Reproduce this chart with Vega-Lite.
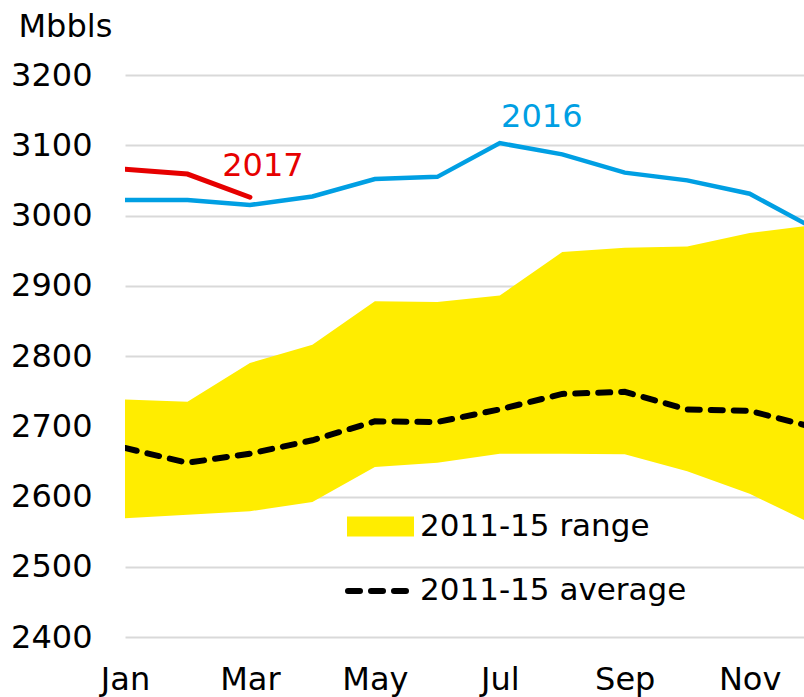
{
  "$schema": "https://vega.github.io/schema/vega-lite/v6.json",
  "width": 679,
  "height": 562,
  "autosize": {"type": "none"},
  "padding": {"left": 125, "top": 75, "right": 0, "bottom": 60},
  "background": "white",
  "config": {
    "font": "DejaVu Sans",
    "view": {"stroke": null},
    "axis": {"labelColor": "#000000", "titleColor": "#000000"}
  },
  "data": {
    "values": [
      {"month": 1, "upper": 2738, "lower": 2569, "avg": 2669, "y2016": 3022, "y2017": 3066},
      {"month": 2, "upper": 2735, "lower": 2574, "avg": 2648, "y2016": 3022, "y2017": 3059},
      {"month": 3, "upper": 2790, "lower": 2579, "avg": 2661, "y2016": 3015, "y2017": 3026},
      {"month": 4, "upper": 2816, "lower": 2592, "avg": 2680, "y2016": 3027, "y2017": null},
      {"month": 5, "upper": 2878, "lower": 2642, "avg": 2707, "y2016": 3052, "y2017": null},
      {"month": 6, "upper": 2877, "lower": 2648, "avg": 2706, "y2016": 3055, "y2017": null},
      {"month": 7, "upper": 2886, "lower": 2661, "avg": 2724, "y2016": 3103, "y2017": null},
      {"month": 8, "upper": 2948, "lower": 2661, "avg": 2746, "y2016": 3087, "y2017": null},
      {"month": 9, "upper": 2954, "lower": 2660, "avg": 2749, "y2016": 3061, "y2017": null},
      {"month": 10, "upper": 2956, "lower": 2636, "avg": 2724, "y2016": 3050, "y2017": null},
      {"month": 11, "upper": 2975, "lower": 2604, "avg": 2722, "y2016": 3031, "y2017": null},
      {"month": 12, "upper": 2986, "lower": 2561, "avg": 2699, "y2016": 2983, "y2017": null}
    ]
  },
  "encoding": {
    "x": {
      "field": "month",
      "type": "quantitative",
      "scale": {"domain": [1, 11.87], "nice": false, "zero": false},
      "axis": {
        "title": null,
        "values": [1, 3, 5, 7, 9, 11],
        "labelExpr": "['Jan','Feb','Mar','Apr','May','Jun','Jul','Aug','Sep','Oct','Nov','Dec'][datum.value - 1]",
        "labelFontSize": 32,
        "labelPadding": 27,
        "labelFlush": false,
        "labelOverlap": false,
        "grid": false,
        "domain": false,
        "ticks": false
      }
    }
  },
  "layer": [
    {
      "mark": {"type": "area", "clip": true, "opacity": 1},
      "encoding": {
        "y": {
          "field": "upper",
          "type": "quantitative",
          "scale": {"domain": [2400, 3200], "nice": false, "zero": false},
          "axis": {
            "values": [2400, 2500, 2600, 2700, 2800, 2900, 3000, 3100, 3200],
            "format": "d",
            "grid": true,
            "gridColor": "#d9d9d9",
            "gridWidth": 2,
            "domain": false,
            "ticks": false,
            "labelFontSize": 32,
            "labelPadding": 33,
            "title": "Mbbls",
            "titleFontSize": 32,
            "titleFontWeight": "normal",
            "titleAngle": 0,
            "titleAlign": "left",
            "titleBaseline": "alphabetic",
            "titleX": -107,
            "titleY": -39
          }
        },
        "y2": {"field": "lower"},
        "fill": {
          "datum": "2011-15 range",
          "type": "nominal",
          "scale": {"range": ["#ffed00"]},
          "legend": {
            "title": null,
            "orient": "none",
            "legendX": 222,
            "legendY": 418,
            "padding": 0,
            "symbolType": "M-1,-0.3H1V0.3H-1Z",
            "symbolSize": 4489,
            "symbolOpacity": 1,
            "symbolStrokeWidth": 0,
            "labelFontSize": 31,
            "labelColor": "#000000",
            "labelLimit": 0,
            "labelOffset": 6
          }
        }
      }
    },
    {
      "mark": {"type": "line", "clip": true, "color": "#000000", "strokeWidth": 6, "strokeCap": "round"},
      "encoding": {
        "y": {"field": "avg", "type": "quantitative"},
        "strokeDash": {
          "datum": "2011-15 average",
          "type": "nominal",
          "scale": {"range": [[12, 11]]},
          "legend": {
            "title": null,
            "orient": "none",
            "legendX": 220,
            "legendY": 483,
            "padding": 0,
            "symbolType": "stroke",
            "symbolSize": 3600,
            "symbolStrokeWidth": 6,
            "symbolStrokeColor": "#000000",
            "labelFontSize": 31,
            "labelColor": "#000000",
            "labelLimit": 0,
            "labelOffset": 9,
            "encode": {"symbols": {"update": {"strokeCap": {"value": "round"}}}}
          }
        }
      }
    },
    {
      "mark": {"type": "line", "clip": true, "color": "#009fe3", "strokeWidth": 4.5},
      "encoding": {"y": {"field": "y2016", "type": "quantitative"}}
    },
    {
      "transform": [{"filter": "datum.y2017 != null"}],
      "mark": {"type": "line", "clip": true, "color": "#e60000", "strokeWidth": 5, "strokeCap": "round"},
      "encoding": {"y": {"field": "y2017", "type": "quantitative"}}
    },
    {
      "transform": [{"filter": "datum.month == 7"}],
      "mark": {"type": "text", "text": "2016", "color": "#009fe3", "fontSize": 32, "dx": 42, "dy": -26, "align": "center", "baseline": "middle"},
      "encoding": {"y": {"field": "y2016", "type": "quantitative"}}
    },
    {
      "transform": [{"filter": "datum.month == 3"}],
      "mark": {"type": "text", "text": "2017", "color": "#e60000", "fontSize": 32, "dx": 13, "dy": -31, "align": "center", "baseline": "middle"},
      "encoding": {"y": {"field": "y2017", "type": "quantitative"}}
    }
  ]
}
